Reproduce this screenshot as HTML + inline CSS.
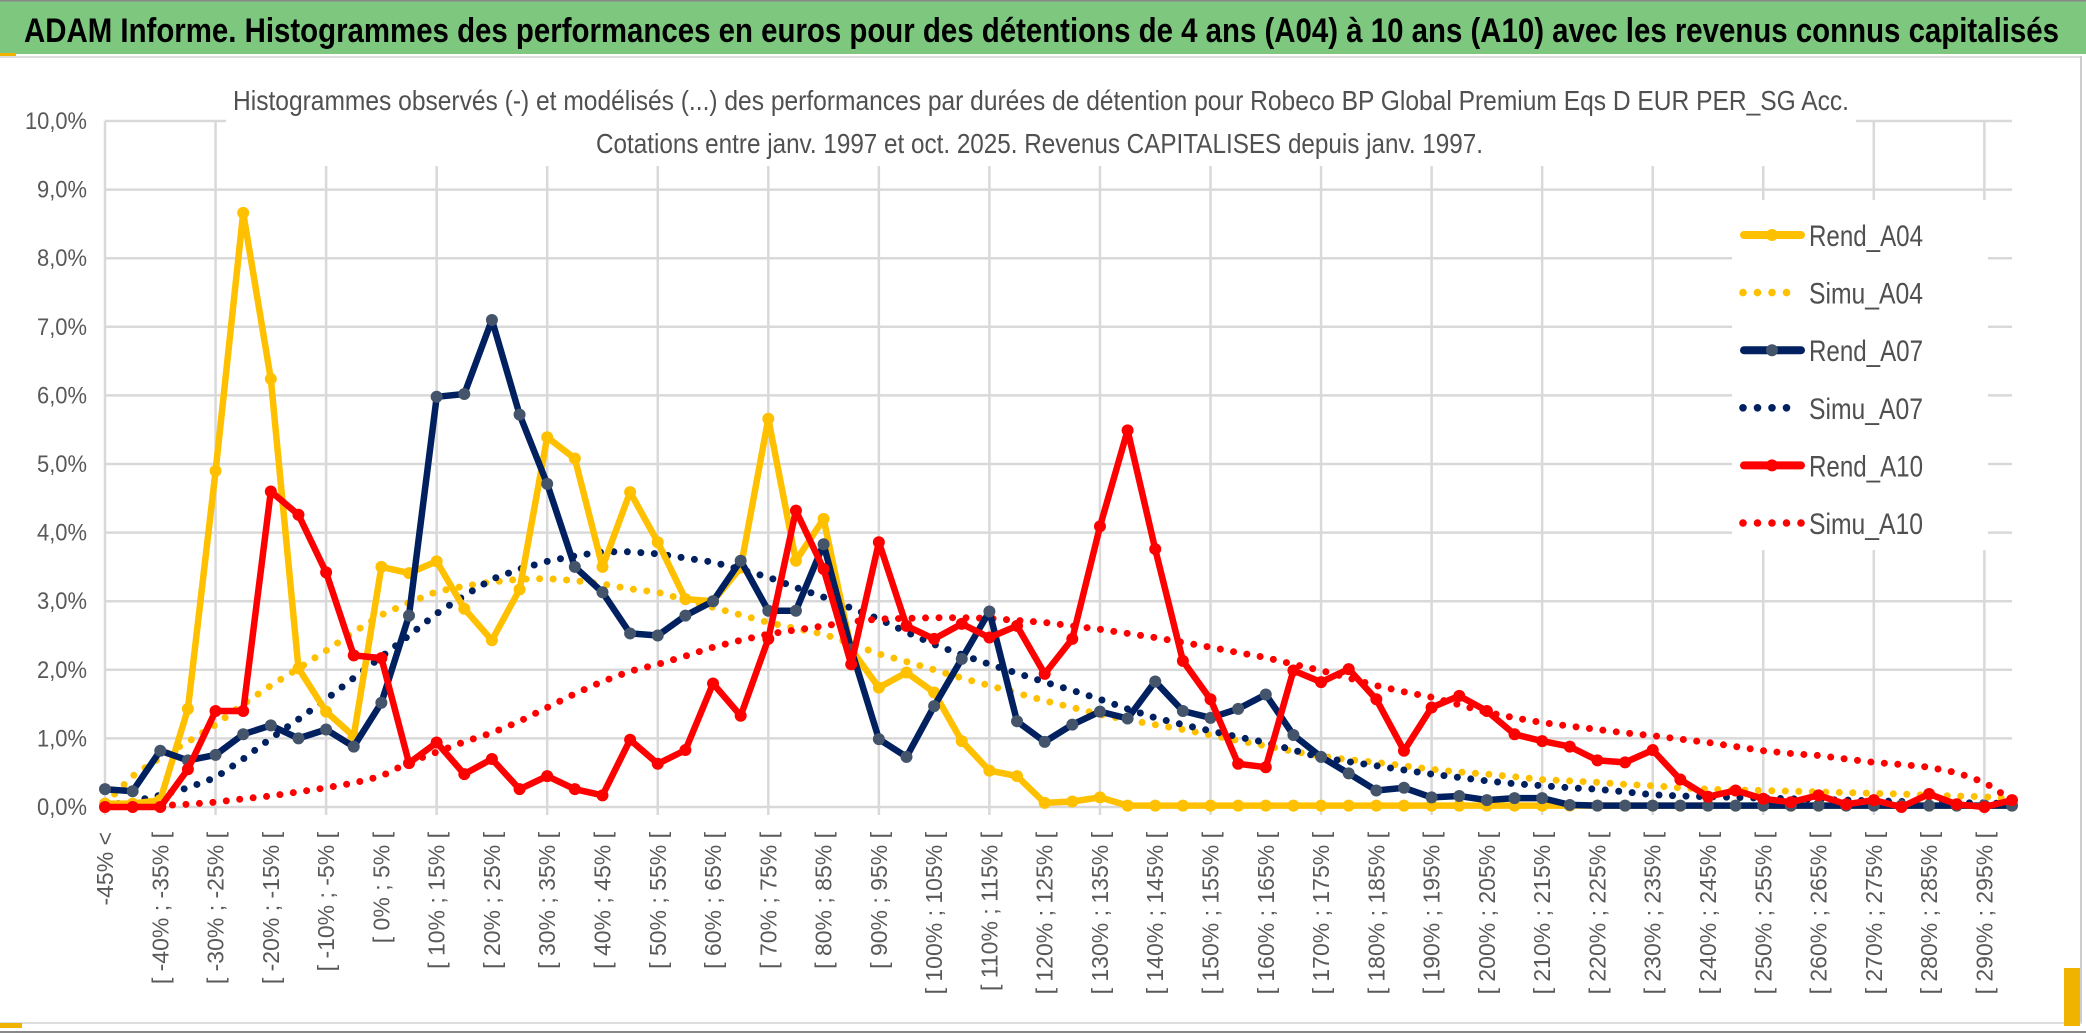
<!DOCTYPE html>
<html><head><meta charset="utf-8"><style>
html,body{margin:0;padding:0;background:#fff;}
svg{display:block;font-family:"Liberation Sans",sans-serif;}
</style></head><body>
<svg id="chart" width="2086" height="1033" viewBox="0 0 2086 1033">
<rect x="0" y="0" width="2086" height="1033" fill="#fff"/>
<rect x="0" y="0" width="2086" height="54" fill="#7DC77F"/>
<rect x="0" y="0" width="2086" height="1.5" fill="#888"/>
<text x="24" y="42" font-size="34" font-weight="bold" fill="#000" textLength="2035" lengthAdjust="spacingAndGlyphs">ADAM Informe. Histogrammes des performances en euros pour des détentions de 4 ans (A04) à 10 ans (A10) avec les revenus connus capitalisés</text>
<rect x="0" y="53" width="16" height="4" fill="#F0B400"/>
<rect x="0" y="56" width="2081" height="2" fill="#ddd"/>
<rect x="2080" y="56" width="2" height="968" fill="#ccc"/>
<rect x="0" y="1022" width="2082" height="2" fill="#ddd"/>
<rect x="0" y="1023" width="22" height="5" fill="#F0B400"/>
<rect x="2064" y="968" width="16" height="58" fill="#F0B400"/>
<rect x="0" y="1031" width="2086" height="2" fill="#888"/>
<g id="grid"></g>
<rect x="226" y="80" width="1630" height="86" fill="#fff"/>
<text x="233" y="110" font-size="28" fill="#505050" textLength="1616" lengthAdjust="spacingAndGlyphs">Histogrammes observés (-) et modélisés (...) des performances par durées de détention pour Robeco BP Global Premium Eqs D EUR PER_SG Acc.</text>
<text x="596" y="153" font-size="28" fill="#505050" textLength="887" lengthAdjust="spacingAndGlyphs">Cotations entre janv. 1997 et oct. 2025. Revenus CAPITALISES depuis janv. 1997.</text>
<g id="yaxis"></g>
<g id="xaxis"></g>
<g id="series"></g>
<g id="legend"></g>
</svg>
<script>
const yTicks = [0,1,2,3,4,5,6,7,8,9,10];
const yTickLabels = ["0,0%","1,0%","2,0%","3,0%","4,0%","5,0%","6,0%","7,0%","8,0%","9,0%","10,0%"];
const binStarts = [];
for (let a = -45; a < 300; a += 5) binStarts.push(a);
const categories = ["-45% <"].concat(binStarts.map(a => "[ " + a + "% ; " + (a+5) + "% ["));
const rendA04 = [0.05,0.05,0.1,1.43,4.9,8.66,6.24,2.02,1.39,1.03,3.5,3.41,3.58,2.89,2.43,3.17,5.39,5.08,3.5,4.59,3.86,3.03,3.0,3.49,5.66,3.59,4.2,2.3,1.74,1.96,1.67,0.96,0.53,0.45,0.06,0.08,0.14,0.02,0.02,0.02,0.02,0.02,0.02,0.02,0.02,0.02,0.02,0.02,0.02,0.02,0.02,0.02,0.02,0.02,0.02,0.02,0.02,0.02,0.02,0.02,0.02,0.02,0.02,0.02,0.02,0.02,0.02,0.02,0.02,0.02];
const simuA04 = [0.05,0.45,0.72,0.95,1.2,1.5,1.77,2.02,2.28,2.55,2.8,2.98,3.14,3.22,3.28,3.32,3.33,3.3,3.25,3.18,3.13,3.02,2.91,2.8,2.69,2.6,2.52,2.38,2.23,2.12,2.0,1.88,1.77,1.66,1.55,1.45,1.35,1.27,1.2,1.13,1.05,0.97,0.89,0.81,0.74,0.69,0.65,0.6,0.55,0.51,0.48,0.44,0.4,0.38,0.36,0.33,0.31,0.28,0.26,0.25,0.24,0.23,0.22,0.21,0.2,0.19,0.17,0.16,0.15,0.12];
const rendA07 = [0.26,0.23,0.82,0.68,0.76,1.06,1.19,1.0,1.13,0.88,1.52,2.79,5.98,6.02,7.1,5.72,4.71,3.5,3.13,2.53,2.5,2.79,3.0,3.59,2.86,2.86,3.83,2.3,0.99,0.73,1.47,2.16,2.85,1.25,0.95,1.2,1.39,1.29,1.83,1.4,1.3,1.43,1.64,1.05,0.73,0.49,0.24,0.28,0.14,0.16,0.1,0.13,0.13,0.03,0.02,0.02,0.02,0.02,0.02,0.02,0.02,0.02,0.02,0.02,0.02,0.02,0.02,0.02,0.02,0.02];
const simuA07 = [0.02,0.08,0.17,0.28,0.43,0.7,1.0,1.28,1.57,1.88,2.19,2.5,2.82,3.08,3.32,3.47,3.58,3.66,3.72,3.72,3.69,3.63,3.57,3.46,3.35,3.2,3.06,2.9,2.74,2.55,2.37,2.22,2.08,1.95,1.82,1.7,1.57,1.43,1.3,1.2,1.11,1.02,0.94,0.83,0.72,0.66,0.6,0.54,0.48,0.43,0.38,0.34,0.31,0.28,0.26,0.22,0.18,0.16,0.15,0.14,0.13,0.12,0.11,0.1,0.09,0.08,0.07,0.06,0.06,0.05];
const rendA10 = [0,0,0,0.55,1.4,1.4,4.6,4.26,3.42,2.21,2.17,0.64,0.94,0.48,0.7,0.26,0.45,0.26,0.17,0.98,0.63,0.83,1.8,1.33,2.45,4.32,3.47,2.08,3.86,2.64,2.45,2.67,2.47,2.64,1.94,2.45,4.09,5.49,3.76,2.13,1.57,0.63,0.58,1.99,1.82,2.01,1.57,0.82,1.45,1.62,1.4,1.06,0.96,0.88,0.68,0.65,0.83,0.4,0.15,0.24,0.12,0.07,0.17,0.04,0.1,0.0,0.19,0.04,0.0,0.1];
const simuA10 = [0,0.01,0.02,0.04,0.07,0.12,0.16,0.22,0.28,0.35,0.45,0.65,0.8,0.95,1.08,1.25,1.45,1.65,1.83,1.98,2.08,2.2,2.33,2.43,2.52,2.58,2.64,2.7,2.74,2.75,2.76,2.76,2.75,2.72,2.69,2.64,2.59,2.53,2.47,2.4,2.33,2.25,2.18,2.08,1.99,1.88,1.77,1.68,1.6,1.49,1.38,1.3,1.23,1.18,1.13,1.08,1.04,0.99,0.94,0.88,0.82,0.78,0.75,0.7,0.65,0.62,0.58,0.5,0.36,0.1];
const seriesNames = ["Rend_A04","Simu_A04","Rend_A07","Simu_A07","Rend_A10","Simu_A10"];

const NS = "http://www.w3.org/2000/svg";
const X0 = 105, DX = (2012-105)/69, Y0 = 807, DY = 68.6;
function xScale(i){ return X0 + i*DX; }
function yScale(v){ return Y0 - v*DY; }
function mk(tag, attrs, parent){ const e=document.createElementNS(NS,tag); for(const k in attrs) e.setAttribute(k,attrs[k]); parent.appendChild(e); return e; }

const grid = document.getElementById('grid');
yTicks.forEach((t,k)=>{
  const l = mk('line',{x1:xScale(0),x2:xScale(69),y1:yScale(t),y2:yScale(t),stroke:'#d9d9d9','stroke-width':2.5},grid);
  
  
});
for(let i=0;i<categories.length;i+=4){
  const l = mk('line',{x1:xScale(i),x2:xScale(i),y1:yScale(10),y2:Y0+8,stroke:'#d9d9d9','stroke-width':2.5},grid);
  
  
}
const yaxis = document.getElementById('yaxis');
yTicks.forEach((t,k)=>{
  const tx = mk('text',{x:87,y:yScale(t)+8,'text-anchor':'end','font-size':24,fill:'#595959',textLength:yTickLabels[k].length>4?62:50,lengthAdjust:'spacingAndGlyphs'},yaxis);
  tx.textContent = yTickLabels[k];
  
  
});
const xaxis = document.getElementById('xaxis');
for(let i=0;i<categories.length;i+=2){
  const x = xScale(i)+8, y = 832;
  const tx = mk('text',{x:x,y:y,transform:`rotate(-90 ${x} ${y})`,'text-anchor':'end','font-size':23,fill:'#595959'},xaxis);
  tx.textContent = categories[i];
  
  
}
const sg = document.getElementById('series');
function pts(arr){ return arr.map((v,i)=>xScale(i).toFixed(1)+','+yScale(v).toFixed(1)).join(' '); }
function dotted(arr,color,name){
  const p = mk('polyline',{points:pts(arr),fill:'none',stroke:color,'stroke-width':7,'stroke-linecap':'round','stroke-dasharray':'0 13.5'},sg);
  
  
}
function solid(arr,color,mcolor,name){
  const p = mk('polyline',{points:pts(arr),fill:'none',stroke:color,'stroke-width':6.5,'stroke-linejoin':'round'},sg);
  
  
  arr.forEach((v,i)=>{
    const c = mk('circle',{cx:xScale(i),cy:yScale(v),r:6,fill:mcolor},sg);
    
    
  });
}
dotted(simuA04,'#FFC000','simu-a04-line');
dotted(simuA07,'#002060','simu-a07-line');
dotted(simuA10,'#FF0000','simu-a10-line');
solid(rendA04,'#FFC000','#FFC000','rend-a04-line');
solid(rendA07,'#002060','#44546A','rend-a07-line');
solid(rendA10,'#FF0000','#FF0000','rend-a10-line');

const lg = document.getElementById('legend');
const lbg = mk('rect',{x:1732,y:200,width:256,height:350,fill:'#fff'},lg);


const legColors = ['#FFC000','#FFC000','#002060','#002060','#FF0000','#FF0000'];
const legMarker = ['#FFC000',null,'#44546A',null,'#FF0000',null];
seriesNames.forEach((n,k)=>{
  const y = 235 + k*57.6;
  const g = mk('g',{},lg);
  
  
  if(legMarker[k]){
    mk('line',{x1:1744,x2:1801,y1:y,y2:y,stroke:legColors[k],'stroke-width':8,'stroke-linecap':'round'},g);
    mk('circle',{cx:1772,cy:y,r:6,fill:legMarker[k]},g);
  } else {
    const cnt = k===5?5:4;
    for(let j=0;j<cnt;j++) mk('circle',{cx:1743+j*14.5,cy:y,r:3.8,fill:legColors[k]},g);
  }
  const t = mk('text',{x:1809,y:y+11,'font-size':30,fill:'#505050',textLength:114,lengthAdjust:'spacingAndGlyphs'},g);
  t.textContent = n;
});
</script>
</body></html>
